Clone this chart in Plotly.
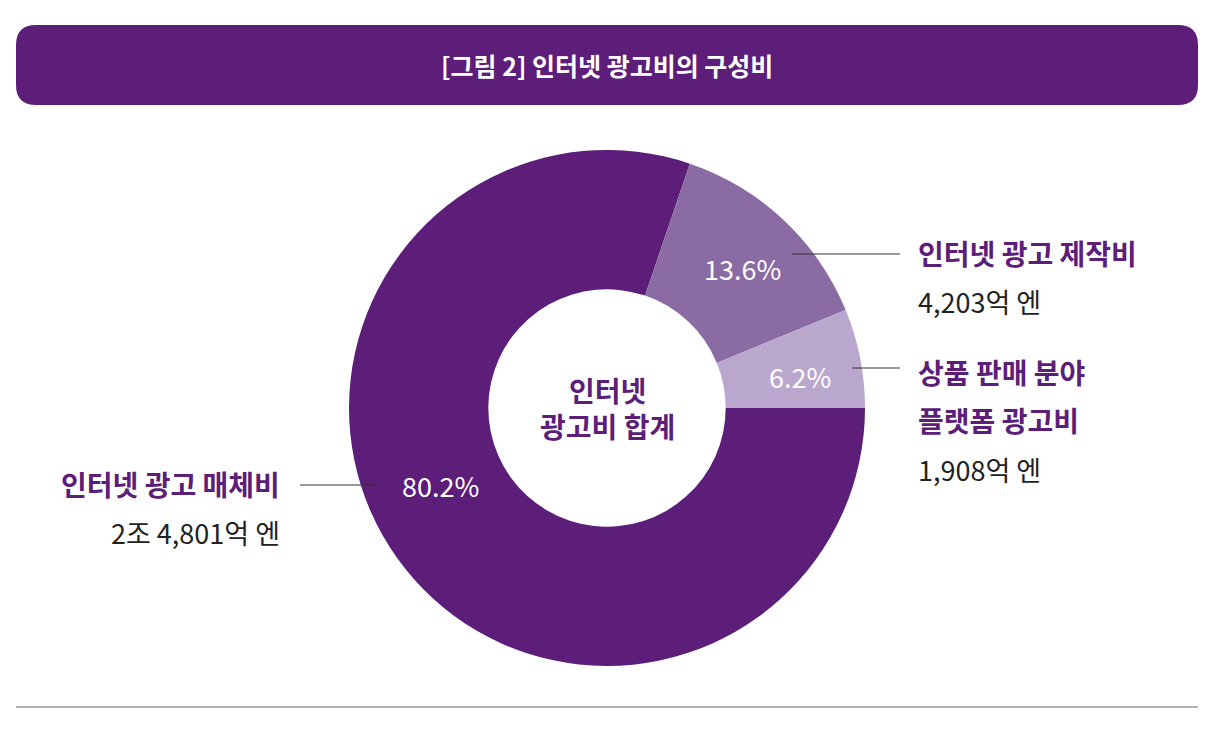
import plotly.graph_objects as go

labels = ["인터넷 광고 매체비", "인터넷 광고 제작비", "상품 판매 분야 플랫폼 광고비"]
values = [80.2, 13.6, 6.2]
amounts = ["2조 4,801억 엔", "4,203억 엔", "1,908억 엔"]
colors = ["#5c1e78", "#8b6ba3", "#b9a7cd"]

W, H = 1218, 749
O = 8  # page body margin offset
F = "Noto Sans CJK KR"
P = "#5c1e78"
fig = go.Figure()
cx, cy, R = 607 - O, 408 - O, 258
fig.add_trace(go.Pie(values=values, labels=labels, sort=False, direction="clockwise",
                     rotation=90, hole=0.46, marker=dict(colors=colors, line=dict(width=0)),
                     textinfo="none", hoverinfo="label+percent", showlegend=False,
                     domain=dict(x=[(cx-R)/W, (cx+R)/W], y=[(H-cy-R)/H, (H-cy+R)/H])))

fig.update_xaxes(range=[O, W + O], visible=False)
fig.update_yaxes(range=[H + O, O], visible=False)
shapes = [
    dict(type="path", path="M 36 25 L 1178 25 Q 1198 25 1198 45 L 1198 85 Q 1198 105 1178 105 L 36 105 Q 16 105 16 85 L 16 45 Q 16 25 36 25 Z",
         fillcolor=P, line=dict(width=0), layer="below"),
    dict(type="line", x0=16, x1=1198, y0=707, y1=707, line=dict(color="#999", width=1.5)),
    dict(type="line", x0=300, x1=376, y0=485, y1=485, line=dict(color="#333", width=1)),
    dict(type="line", x0=792, x1=900, y0=254, y1=254, line=dict(color="#333", width=1)),
    dict(type="line", x0=852, x1=900, y0=368, y1=368, line=dict(color="#333", width=1)),
]
ann = []
def A(t, x, y, size, color, anchor="center", bold=False):
    ann.append(dict(text=f"<b>{t}</b>" if bold else t, x=x, y=y, xref="x", yref="y", showarrow=False,
                    xanchor=anchor, yanchor="middle", align=anchor if anchor != "center" else "center",
                    font=dict(family=F, size=size, color=color)))
A("[그림 2] 인터넷 광고비의 구성비", 607, 65, 25, "white", bold=True)
A(f"{values[0]}%", 440, 485, 27, "white")
A(f"{values[1]}%", 742, 268, 27, "white")
A(f"{values[2]}%", 800, 376, 27, "white")
A("인터넷<br>광고비 합계", 607, 408, 28, P, bold=True)
A(labels[0], 282, 484, 28, P, "right", True)
A(amounts[0], 282, 532, 27, "#222", "right")
A(labels[1], 916, 253, 28, P, "left", True)
A(amounts[1], 916, 301, 27, "#222", "left")
A("상품 판매 분야", 916, 372, 28, P, "left", True)
A("플랫폼 광고비", 916, 420, 28, P, "left", True)
A(amounts[2], 916, 469, 27, "#222", "left")
fig.update_layout(width=W, height=H, margin=dict(l=0, r=0, t=0, b=0), plot_bgcolor="white",
                  paper_bgcolor="white", shapes=shapes, annotations=ann)
fig.write_html("out.html")
